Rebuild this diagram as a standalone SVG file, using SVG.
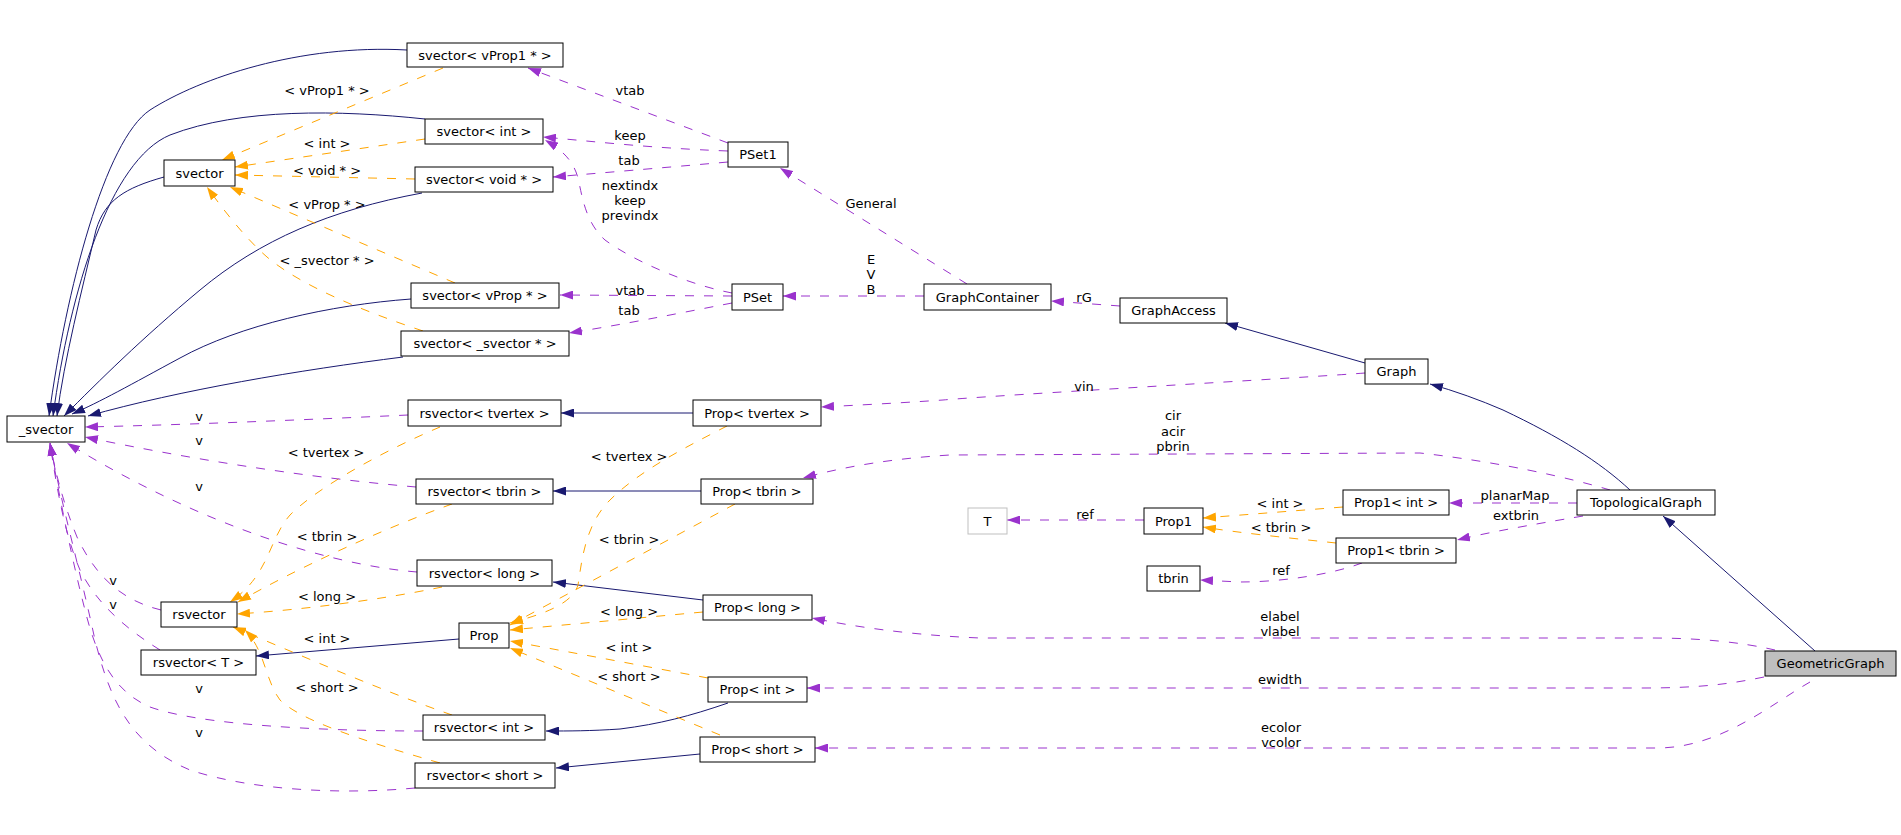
<svg xmlns="http://www.w3.org/2000/svg" width="1901" height="835" viewBox="0 0 1901 835">
<style>
text{font-family:"DejaVu Sans","Liberation Sans",sans-serif;font-size:13px;fill:#000;text-anchor:middle}
.n rect{fill:#fff;stroke:#000;stroke-width:1}
.g rect{fill:#fff;stroke:#bfbfbf;stroke-width:1}
.cur rect{fill:#bfbfbf;stroke:#000;stroke-width:1}
path{fill:none;stroke-width:1}
.inh{stroke:#191970;marker-end:url(#ai)}
.use{stroke:#9a32cd;stroke-dasharray:9,10;marker-end:url(#au)}
.tpl{stroke:#ffa500;stroke-dasharray:9,10;marker-end:url(#at)}
</style>
<defs>
<marker id="ai" markerUnits="userSpaceOnUse" markerWidth="13" markerHeight="9" viewBox="0 0 13 9" refX="13" refY="4.5" orient="auto"><path d="M0,0L13,4.5L0,9z" style="fill:#191970;stroke:none"/></marker>
<marker id="au" markerUnits="userSpaceOnUse" markerWidth="13" markerHeight="9" viewBox="0 0 13 9" refX="13" refY="4.5" orient="auto"><path d="M0,0L13,4.5L0,9z" style="fill:#9a32cd;stroke:none"/></marker>
<marker id="at" markerUnits="userSpaceOnUse" markerWidth="13" markerHeight="9" viewBox="0 0 13 9" refX="13" refY="4.5" orient="auto"><path d="M0,0L13,4.5L0,9z" style="fill:#ffa500;stroke:none"/></marker>
</defs>
<rect width="1901" height="835" fill="#fff"/>
<g id="connectors">
<path class="inh" d="M407,50 C300,44 200,78 150,110 C105,140 66,290 49,416"/>
<path class="inh" d="M425,119 C340,110 240,108 170,135 C110,160 70,290 53,416"/>
<path class="inh" d="M164,177 C125,188 105,200 96,230 C82,290 64,360 57,416"/>
<path class="inh" d="M422,193 C330,210 260,240 200,290 C140,340 100,380 64,416"/>
<path class="inh" d="M411,299 C330,305 240,325 180,358 C130,385 100,402 72,414"/>
<path class="inh" d="M403,357 C300,370 180,390 88,416"/>
<path class="inh" d="M693,413 L561,413"/>
<path class="inh" d="M701,491 L553,491"/>
<path class="inh" d="M703,600 L553,582"/>
<path class="inh" d="M728,703 C690,716 660,724 620,729 C590,731 570,731 546,731"/>
<path class="inh" d="M700,754 L556,768"/>
<path class="inh" d="M459,639 L256,656"/>
<path class="inh" d="M1365,363 L1225,323"/>
<path class="inh" d="M1630,490 C1600,462 1560,437 1503,410 C1480,400 1455,391 1430,384"/>
<path class="inh" d="M1815,651 L1663,516"/>

<path class="tpl" d="M443,68 L222,160"/>
<path class="tpl" d="M425,139 L235,167"/>
<path class="tpl" d="M415,179 L235,175"/>
<path class="tpl" d="M455,283 L230,187"/>
<path class="tpl" d="M423,331 C360,310 300,285 267,257 C245,238 222,208 207,187"/>
<path class="tpl" d="M440,427 C390,448 320,485 290,515 C268,540 270,575 230,602"/>
<path class="tpl" d="M452,504 C380,530 300,567 238,602"/>
<path class="tpl" d="M442,587 C380,600 300,610 237,614"/>
<path class="tpl" d="M452,715 C380,690 300,655 233,627"/>
<path class="tpl" d="M440,763 C360,740 300,720 280,700 C265,680 265,650 245,630"/>
<path class="tpl" d="M727,426 C690,445 640,470 610,500 C585,525 582,560 578,585 C572,605 540,615 510,623"/>
<path class="tpl" d="M735,504 L510,625"/>
<path class="tpl" d="M703,612 L510,630"/>
<path class="tpl" d="M708,678 L510,641"/>
<path class="tpl" d="M720,735 L510,648"/>
<path class="tpl" d="M1343,507 L1203,518"/>
<path class="tpl" d="M1336,543 C1290,538 1240,533 1203,527"/>

<path class="use" d="M728,143 L528,68"/>
<path class="use" d="M728,151 C650,148 600,142 543,137"/>
<path class="use" d="M728,162 C660,168 600,173 553,177"/>
<path class="use" d="M732,293 C690,285 635,262 605,240 C585,222 582,195 578,178 C573,160 562,150 545,140"/>
<path class="use" d="M732,296 L560,295"/>
<path class="use" d="M732,303 C670,315 620,325 569,333"/>
<path class="use" d="M967,284 L780,168"/>
<path class="use" d="M924,296 L783,296"/>
<path class="use" d="M1120,306 L1051,301"/>
<path class="use" d="M1365,373 C1300,378 1000,395 943,400 C900,403 860,405 821,407"/>
<path class="use" d="M1610,490 C1570,478 1500,462 1420,453 L950,455 C900,458 850,465 803,478"/>
<path class="use" d="M1577,503 L1449,503"/>
<path class="use" d="M1583,516 C1530,525 1490,532 1457,540"/>
<path class="use" d="M1144,520 L1007,520"/>
<path class="use" d="M1362,563 C1330,575 1280,582 1240,582 L1200,580"/>
<path class="use" d="M1775,650 C1740,642 1700,638 1650,638 L980,638 C930,636 870,630 812,618"/>
<path class="use" d="M1764,677 C1730,684 1700,688 1643,688 L807,688"/>
<path class="use" d="M1810,682 C1770,705 1720,748 1657,748 L815,748"/>
<path class="use" d="M408,415 C300,420 180,425 85,427"/>
<path class="use" d="M416,487 C300,477 180,457 85,437"/>
<path class="use" d="M417,572 C330,565 200,525 67,443"/>
<path class="use" d="M161,610 C120,600 95,575 77,537 C62,500 55,470 50,443"/>
<path class="use" d="M160,650 C120,625 95,600 80,570 C65,535 57,490 50,443"/>
<path class="use" d="M423,731 C320,731 200,725 150,707 C110,690 95,650 85,610 C72,560 58,490 50,443"/>
<path class="use" d="M415,788 C340,795 250,790 190,770 C130,745 110,700 95,640 C80,570 58,490 50,443"/>

<text x="327" y="94.5">&lt; vProp1 * &gt;</text>
<text x="327" y="147.5">&lt; int &gt;</text>
<text x="327" y="174.5">&lt; void * &gt;</text>
<text x="327" y="208.5">&lt; vProp * &gt;</text>
<text x="327" y="264.5">&lt; _svector * &gt;</text>
<text x="326" y="456.5">&lt; tvertex &gt;</text>
<text x="327" y="540.5">&lt; tbrin &gt;</text>
<text x="327" y="600.5">&lt; long &gt;</text>
<text x="327" y="642.5">&lt; int &gt;</text>
<text x="327" y="691.5">&lt; short &gt;</text>
<text x="629" y="460.5">&lt; tvertex &gt;</text>
<text x="629" y="543.5">&lt; tbrin &gt;</text>
<text x="629" y="615.5">&lt; long &gt;</text>
<text x="629" y="651.5">&lt; int &gt;</text>
<text x="629" y="680.5">&lt; short &gt;</text>
<text x="1280" y="507.5">&lt; int &gt;</text>
<text x="1281" y="531.5">&lt; tbrin &gt;</text>
<text x="630" y="94.5">vtab</text>
<text x="630" y="139.5">keep</text>
<text x="629" y="164.5">tab</text>
<text x="630" y="190">nextindx</text>
<text x="630" y="204.5">keep</text>
<text x="630" y="219.5">previndx</text>
<text x="630" y="294.5">vtab</text>
<text x="629" y="314.5">tab</text>
<text x="871" y="207.5">General</text>
<text x="871" y="263.5">E</text>
<text x="871" y="278.5">V</text>
<text x="871" y="293.5">B</text>
<text x="1084" y="301.5">rG</text>
<text x="1084" y="390.5">vin</text>
<text x="1173" y="419.5">cir</text>
<text x="1173" y="435.5">acir</text>
<text x="1173" y="450.5">pbrin</text>
<text x="1515" y="499.5">planarMap</text>
<text x="1516" y="519.5">extbrin</text>
<text x="1085" y="518.5">ref</text>
<text x="1281" y="574.5">ref</text>
<text x="1280" y="620.5">elabel</text>
<text x="1280" y="635.5">vlabel</text>
<text x="1280" y="683.5">ewidth</text>
<text x="1281" y="731.5">ecolor</text>
<text x="1281" y="746.5">vcolor</text>
<text x="199" y="420.5">v</text>
<text x="199" y="444.5">v</text>
<text x="199" y="490.5">v</text>
<text x="113" y="584.5">v</text>
<text x="113" y="608.5">v</text>
<text x="199" y="692.5">v</text>
<text x="199" y="736.5">v</text>
</g>

<g id="n_svector_vProp1" class="n"><rect x="407" y="43" width="156" height="24"/><text x="485" y="59.5">svector&lt; vProp1 * &gt;</text></g>
<g id="n_svector_int" class="n"><rect x="425" y="119" width="118" height="25"/><text x="484" y="136">svector&lt; int &gt;</text></g>
<g id="n_svector" class="n"><rect x="164" y="160" width="71" height="26"/><text x="199.5" y="177.5">svector</text></g>
<g id="n_svector_void" class="n"><rect x="415" y="167" width="138" height="25"/><text x="484" y="184">svector&lt; void * &gt;</text></g>
<g id="n_svector_vProp" class="n"><rect x="411" y="283" width="148" height="25"/><text x="485" y="300">svector&lt; vProp * &gt;</text></g>
<g id="n_svector_svector" class="n"><rect x="401" y="331" width="168" height="25"/><text x="485" y="348">svector&lt; _svector * &gt;</text></g>
<g id="n_rsvector_tvertex" class="n"><rect x="408" y="400" width="153" height="26"/><text x="484.5" y="417.5">rsvector&lt; tvertex &gt;</text></g>
<g id="n__svector" class="n"><rect x="7" y="416" width="78" height="26"/><text x="46" y="433.5">_svector</text></g>
<g id="n_PSet1" class="n"><rect x="728" y="142" width="60" height="25"/><text x="758" y="159">PSet1</text></g>
<g id="n_PSet" class="n"><rect x="732" y="284" width="51" height="26"/><text x="757.5" y="301.5">PSet</text></g>
<g id="n_GraphContainer" class="n"><rect x="924" y="284" width="127" height="26"/><text x="987.5" y="301.5">GraphContainer</text></g>
<g id="n_GraphAccess" class="n"><rect x="1120" y="298" width="107" height="25"/><text x="1173.5" y="315">GraphAccess</text></g>
<g id="n_Graph" class="n"><rect x="1365" y="359" width="63" height="25"/><text x="1396.5" y="376">Graph</text></g>
<g id="n_Prop_tvertex" class="n"><rect x="693" y="400" width="128" height="26"/><text x="757" y="417.5">Prop&lt; tvertex &gt;</text></g>
<g id="n_rsvector_tbrin" class="n"><rect x="416" y="479" width="137" height="25"/><text x="484.5" y="496">rsvector&lt; tbrin &gt;</text></g>
<g id="n_Prop_tbrin" class="n"><rect x="701" y="479" width="112" height="25"/><text x="757" y="496">Prop&lt; tbrin &gt;</text></g>
<g id="n_rsvector_long" class="n"><rect x="417" y="560" width="135" height="26"/><text x="484.5" y="577.5">rsvector&lt; long &gt;</text></g>
<g id="n_Prop_long" class="n"><rect x="703" y="595" width="109" height="25"/><text x="757.5" y="612">Prop&lt; long &gt;</text></g>
<g id="n_rsvector" class="n"><rect x="161" y="602" width="76" height="25"/><text x="199" y="619">rsvector</text></g>
<g id="n_Prop" class="n"><rect x="459" y="623" width="50" height="25"/><text x="484" y="640">Prop</text></g>
<g id="n_rsvector_T" class="n"><rect x="141" y="650" width="115" height="25"/><text x="198.5" y="667">rsvector&lt; T &gt;</text></g>
<g id="n_Prop_int" class="n"><rect x="708" y="677" width="99" height="25"/><text x="757.5" y="694">Prop&lt; int &gt;</text></g>
<g id="n_rsvector_int" class="n"><rect x="423" y="715" width="122" height="25"/><text x="484" y="732">rsvector&lt; int &gt;</text></g>
<g id="n_Prop_short" class="n"><rect x="700" y="737" width="115" height="25"/><text x="757.5" y="754">Prop&lt; short &gt;</text></g>
<g id="n_rsvector_short" class="n"><rect x="415" y="763" width="140" height="25"/><text x="485" y="780">rsvector&lt; short &gt;</text></g>
<g id="n_T" class="g"><rect x="968" y="508" width="39" height="26"/><text x="987.5" y="525.5">T</text></g>
<g id="n_Prop1" class="n"><rect x="1144" y="508" width="59" height="26"/><text x="1173.5" y="525.5">Prop1</text></g>
<g id="n_tbrin" class="n"><rect x="1147" y="566" width="53" height="25"/><text x="1173.5" y="583">tbrin</text></g>
<g id="n_Prop1_int" class="n"><rect x="1343" y="490" width="106" height="25"/><text x="1396" y="507">Prop1&lt; int &gt;</text></g>
<g id="n_Prop1_tbrin" class="n"><rect x="1336" y="538" width="120" height="25"/><text x="1396" y="555">Prop1&lt; tbrin &gt;</text></g>
<g id="n_TopologicalGraph" class="n"><rect x="1577" y="490" width="138" height="25"/><text x="1646" y="507">TopologicalGraph</text></g>
<g id="n_GeometricGraph" class="cur"><rect x="1765" y="651" width="131" height="25"/><text x="1830.5" y="668">GeometricGraph</text></g>
</svg>
